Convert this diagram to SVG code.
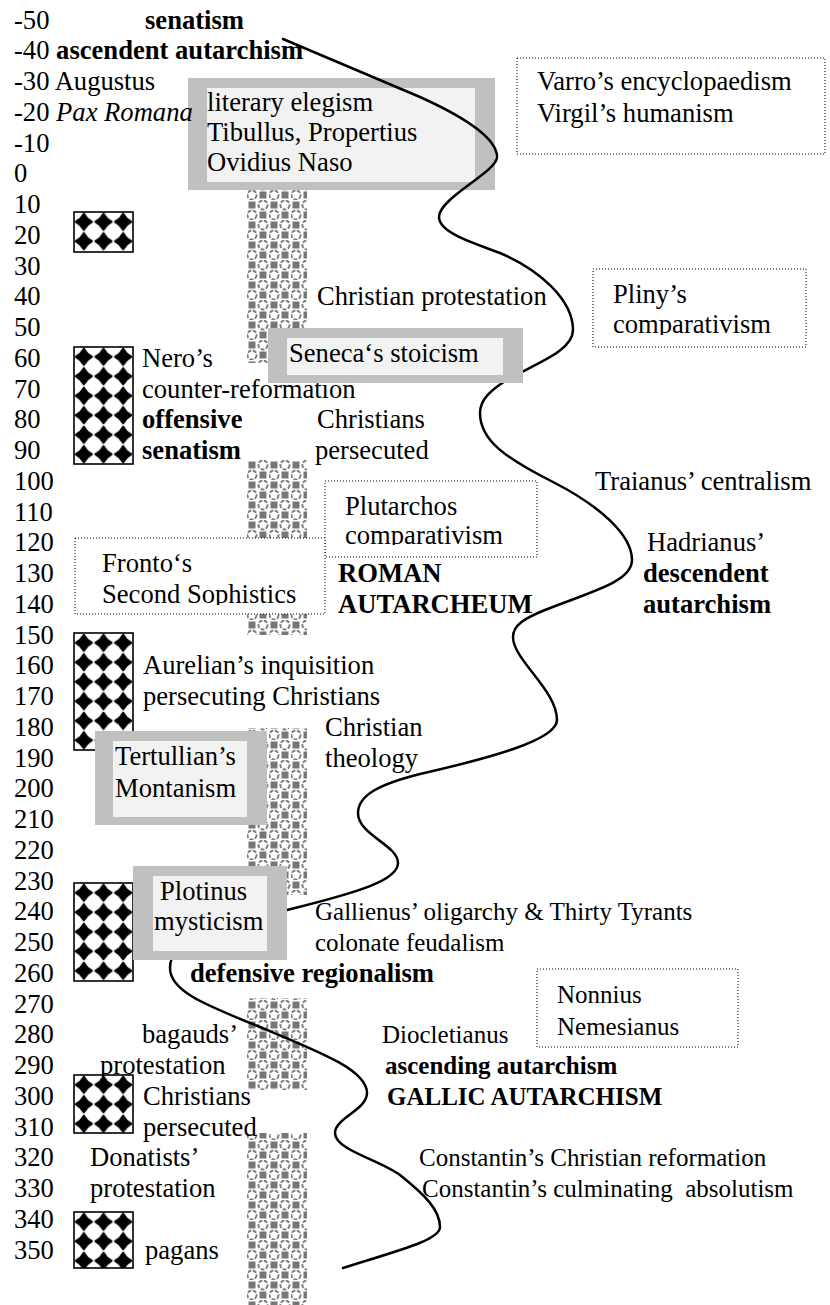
<svg xmlns="http://www.w3.org/2000/svg" width="830" height="1305" viewBox="0 0 830 1305">
<defs>
<style>
.t{font-family:"Liberation Serif","Times New Roman",serif;font-size:26.6px;fill:#000}
.s{font-size:25px}
.b{font-weight:bold}
.i{font-style:italic}
.frame{fill:#c0c0c0}
.inner{fill:#f2f2f2}
.dot{fill:#fff;stroke:#000;stroke-width:1;stroke-dasharray:1 2}
.col{fill:url(#sphere)}
.dia{fill:url(#diamonds);stroke:#000;stroke-width:1.6}
.curve{fill:none;stroke:#000;stroke-width:2.5;stroke-linejoin:round;stroke-linecap:round}
</style>
<pattern id="sphere" patternUnits="userSpaceOnUse" x="247" y="0" width="22" height="20">
<rect width="22" height="20" fill="#fff"/>
<circle cx="16" cy="5" r="4.6" fill="none" stroke="#808080" stroke-width="2" stroke-dasharray="4 1.5"/>
<circle cx="5" cy="15" r="4.6" fill="none" stroke="#808080" stroke-width="2" stroke-dasharray="4 1.5"/>
<rect x="1.5" y="1.5" width="7" height="7" fill="#777"/>
<rect x="12.5" y="11.5" width="7" height="7" fill="#777"/>
</pattern>
<pattern id="diamonds" patternUnits="userSpaceOnUse" width="19.67" height="19.5">
<rect width="19.67" height="19.5" fill="#fff"/>
<path d="M9.83,1.6 Q12.6,6.9 17.9,9.75 Q12.6,12.6 9.83,17.9 Q7.1,12.6 1.76,9.75 Q7.1,6.9 9.83,1.6Z" fill="#000" stroke="#000" stroke-width="2" stroke-linejoin="round"/>
</pattern>
<clipPath id="clipPliny"><rect x="593" y="269" width="213" height="66"/></clipPath>
<clipPath id="clipPlut"><rect x="325" y="481" width="212" height="64"/></clipPath>
<clipPath id="clipFronto"><rect x="75" y="538" width="250" height="67"/></clipPath>
</defs>
<rect width="830" height="1305" fill="#fff"/>

<g id="column">
<rect class="col" x="247" y="190" width="60" height="173"/>
<rect class="col" x="247" y="460" width="60" height="78"/>
<rect class="col" x="247" y="614" width="60" height="21"/>
<rect class="col" x="247" y="728" width="60" height="167"/>
<rect class="col" x="247" y="998" width="60" height="92"/>
<rect class="col" x="247" y="1133" width="60" height="172"/>
</g>

<g id="diamond-boxes">
<g id="dbox1" transform="translate(74,212)"><rect class="dia" width="59" height="40"/></g>
<g id="dbox2" transform="translate(74,347)"><rect class="dia" width="59" height="117"/></g>
<g id="dbox3" transform="translate(74,633)"><rect class="dia" width="59" height="117"/></g>
<g id="dbox4" transform="translate(74,883)"><rect class="dia" width="59" height="98"/></g>
<g id="dbox5" transform="translate(74,1075)"><rect class="dia" width="59" height="58"/></g>
<g id="dbox6" transform="translate(74,1212)"><rect class="dia" width="59" height="56"/></g>
</g>

<g id="literary">
<rect class="frame" x="188" y="78" width="307" height="112"/>
<rect class="inner" x="207" y="88" width="268" height="94"/>
<text class="t" x="207" y="111">literary elegism</text>
<text class="t" x="207" y="141">Tibullus, Propertius</text>
<text class="t" x="207" y="171">Ovidius Naso</text>
</g>

<g id="varro">
<rect class="dot" x="517" y="58" width="308" height="96"/>
<text class="t" x="537" y="90">Varro’s encyclopaedism</text>
<text class="t" x="537" y="122">Virgil’s humanism</text>
</g>

<g id="pliny">
<rect class="dot" x="593" y="269" width="213" height="78"/>
<g clip-path="url(#clipPliny)">
<text class="t" x="613" y="303">Pliny’s</text>
<text class="t" x="613" y="333">comparativism</text>
</g>
</g>

<g id="plutarchos">
<rect class="dot" x="325" y="481" width="212" height="76"/>
<g clip-path="url(#clipPlut)">
<text class="t" x="345" y="515">Plutarchos</text>
<text class="t" x="345" y="544">comparativism</text>
</g>
</g>

<g id="fronto">
<rect class="dot" x="75" y="538" width="250" height="76"/>
<g clip-path="url(#clipFronto)">
<text class="t" x="102" y="572">Fronto‘s</text>
<text class="t" x="102" y="603">Second Sophistics</text>
</g>
</g>

<g id="nonnius">
<rect class="dot" x="537" y="969" width="201" height="78"/>
<text class="t s" x="557" y="1003">Nonnius</text>
<text class="t s" x="557" y="1035">Nemesianus</text>
</g>

<g id="timeline">
<text class="t" x="14" y="28.5">-50</text>
<text class="t b" x="145" y="28.5">senatism</text>
<text class="t" x="14" y="59.25">-40 <tspan class="b">ascendent autarchism</tspan></text>
<text class="t" x="14" y="90">-30 Augustus</text>
<text class="t" x="14" y="120.75">-20 <tspan class="i">Pax Romana</tspan></text>
<text class="t" x="14" y="151.5">-10</text>
<text class="t" x="14" y="182.25">0</text>
<text class="t" x="14" y="213">10</text>
<text class="t" x="14" y="243.75">20</text>
<text class="t" x="14" y="274.5">30</text>
<text class="t" x="14" y="305.25">40</text>
<text class="t" x="14" y="336">50</text>
<text class="t" x="14" y="366.75">60</text>
<text class="t" x="14" y="397.5">70</text>
<text class="t" x="14" y="428.25">80</text>
<text class="t" x="14" y="459">90</text>
<text class="t" x="14" y="489.75">100</text>
<text class="t" x="14" y="520.5">110</text>
<text class="t" x="14" y="551.25">120</text>
<text class="t" x="14" y="582">130</text>
<text class="t" x="14" y="612.75">140</text>
<text class="t" x="14" y="643.5">150</text>
<text class="t" x="14" y="674.25">160</text>
<text class="t" x="14" y="705">170</text>
<text class="t" x="14" y="735.75">180</text>
<text class="t" x="14" y="766.5">190</text>
<text class="t" x="14" y="797.25">200</text>
<text class="t" x="14" y="828">210</text>
<text class="t" x="14" y="858.75">220</text>
<text class="t" x="14" y="889.5">230</text>
<text class="t" x="14" y="920.25">240</text>
<text class="t" x="14" y="951">250</text>
<text class="t" x="14" y="981.75">260</text>
<text class="t" x="14" y="1012.5">270</text>
<text class="t" x="14" y="1043.25">280</text>
<text class="t" x="14" y="1074">290</text>
<text class="t" x="14" y="1104.75">300</text>
<text class="t" x="14" y="1135.5">310</text>
<text class="t" x="14" y="1166.25">320</text>
<text class="t" x="14" y="1197">330</text>
<text class="t" x="14" y="1227.75">340</text>
<text class="t" x="14" y="1258.5">350</text>
</g>

<g id="labels">
<text class="t" x="317" y="305.25">Christian protestation</text>
<text class="t" x="142" y="366.75">Nero’s</text>
<text class="t" x="142" y="397.5">counter-reformation</text>
<text class="t b" x="142" y="428.25">offensive</text>
<text class="t" x="317" y="428.25">Christians</text>
<text class="t b" x="142" y="459">senatism</text>
<text class="t" x="315" y="459">persecuted</text>
<text class="t" x="595" y="489.75">Traianus’ centralism</text>
<text class="t" x="647" y="551.25">Hadrianus’</text>
<text class="t b" x="643" y="582">descendent</text>
<text class="t b" x="643" y="612.75">autarchism</text>
<text class="t b" x="338" y="582">ROMAN</text>
<text class="t b" x="338" y="612.75">AUTARCHEUM</text>
<text class="t" x="143" y="674.25">Aurelian’s inquisition</text>
<text class="t" x="143" y="705">persecuting Christians</text>
<text class="t" x="325" y="735.75">Christian</text>
<text class="t" x="325" y="766.5">theology</text>
<text class="t s" x="315" y="920.25">Gallienus’ oligarchy &amp; Thirty Tyrants</text>
<text class="t s" x="315" y="951">colonate feudalism</text>
<text class="t b" x="190" y="981.75">defensive regionalism</text>
<text class="t" x="142" y="1043.25">bagauds’</text>
<text class="t s" x="382" y="1043.25">Diocletianus</text>
<text class="t" x="100" y="1074">protestation</text>
<text class="t s b" x="385" y="1074">ascending autarchism</text>
<text class="t" x="143" y="1104.75">Christians</text>
<text class="t s b" x="387" y="1104.75">GALLIC AUTARCHISM</text>
<text class="t" x="143" y="1135.5">persecuted</text>
<text class="t" x="90" y="1166.25">Donatists’</text>
<text class="t s" x="419" y="1166.25">Constantin’s Christian reformation</text>
<text class="t" x="90" y="1197">protestation</text>
<text class="t s" x="422" y="1197" xml:space="preserve">Constantin’s culminating  absolutism</text>
<text class="t" x="145" y="1258.5">pagans</text>
</g>

<g id="connectors">
<path class="curve" d="M283,39 L420,97 C462,116 497,137 497,157 C497,172 439,198 439,217 C439,232 470,242 500,253 C540,270 573,300 573,330 C573,350 540,362 510,378 C490,390 480,400 480,413 C480,440 505,458 553,482 C600,506 632,535 632,560 C632,582 590,592 545,610 C525,618 513,625 513,637 C513,660 557,690 557,720 C557,740 490,758 420,774 C380,784 358,795 358,813 C358,835 398,845 398,863 C398,880 360,892 287,910 C220,925 170,935 170,968 C170,990 200,1003 260,1027 C320,1052 367,1070 367,1093 C367,1110 335,1118 335,1133 C335,1150 380,1160 400,1175 C425,1195 440,1210 440,1227 C440,1240 400,1250 343,1268"/>
</g>

<g id="seneca">
<rect class="frame" x="268" y="328" width="255" height="55"/>
<rect class="inner" x="287" y="338" width="216" height="37"/>
<text class="t" x="289" y="362">Seneca‘s stoicism</text>
</g>

<g id="tertullian">
<rect class="frame" x="95" y="731" width="172" height="94"/>
<rect class="inner" x="113" y="741" width="134" height="76"/>
<text class="t" x="115" y="765">Tertullian’s</text>
<text class="t" x="115" y="797">Montanism</text>
</g>

<g id="plotinus">
<rect class="frame" x="133" y="866" width="154" height="94"/>
<rect class="inner" x="153" y="876" width="114" height="75"/>
<text class="t" x="160" y="900">Plotinus</text>
<text class="t" x="154" y="930">mysticism</text>
</g>
</svg>
